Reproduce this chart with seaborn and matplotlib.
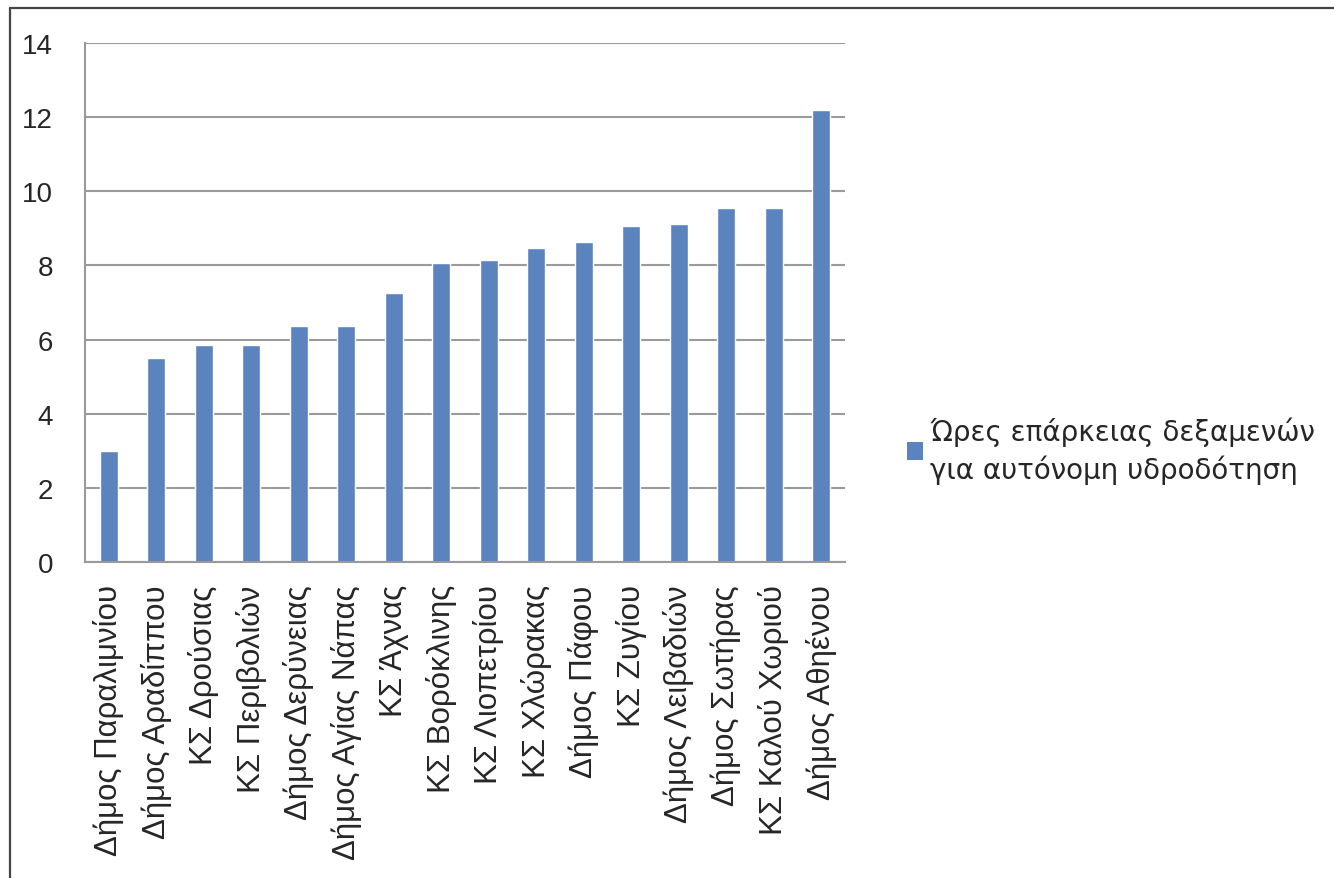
import numpy as np
import pandas as pd
import matplotlib
matplotlib.use("Agg")
import matplotlib.pyplot as plt
from matplotlib.patches import Patch
from matplotlib.lines import Line2D
import seaborn as sns

# ώρες επάρκειας δεξαμενών ανά περιοχή
places = [
    "Δήμος Παραλιμνίου", "Δήμος Αραδίππου", "ΚΣ Δρούσιας", "ΚΣ Περιβολιών",
    "Δήμος Δερύνειας", "Δήμος Αγίας Νάπας", "ΚΣ Άχνας", "ΚΣ Βορόκλινης",
    "ΚΣ Λιοπετρίου", "ΚΣ Χλώρακας", "Δήμος Πάφου", "ΚΣ Ζυγίου",
    "Δήμος Λειβαδιών", "Δήμος Σωτήρας", "ΚΣ Καλού Χωριού", "Δήμος Αθηένου",
]
hours = [3.0, 5.5, 5.86, 5.86, 6.37, 6.37, 7.26, 8.07,
         8.14, 8.46, 8.62, 9.05, 9.13, 9.54, 9.54, 12.19]
series_name = "Ώρες επάρκειας δεξαμενών\nγια αυτόνομη υδροδότηση"
yticks = [0, 2, 4, 6, 8, 10, 12, 14]

df = pd.DataFrame({"place": places, "hours": hours})

sns.set_style("white")
plt.rcParams["font.family"] = ["Liberation Sans", "DejaVu Sans"]

fig = plt.figure(figsize=(13.34, 8.79), dpi=100)
ax = fig.add_axes([0.0637, 0.3595, 0.5697, 0.5905])

bar_color = "#5b83be"
grid_color = "#9a9a9a"
text_color = "#262626"
sns.barplot(data=df, x="place", y="hours", color=bar_color, width=0.38,
            saturation=1, ax=ax)

ax.set_ylim(0, 14)
ax.set_xlim(-0.5, len(places) - 0.5)
ax.set_yticks(yticks)
ax.set_yticklabels([str(t) for t in yticks], fontsize=20, color=text_color)
ax.yaxis.grid(True, color=grid_color, linewidth=1.5)
ax.set_axisbelow(True)
ax.tick_params(axis="y", length=9, color=grid_color, width=1.5, pad=14)

# category labels, with tick marks between categories
ax.set_xticks(range(len(places)))
ax.set_xticklabels(places, rotation=90, fontsize=22.5, color=text_color)
ax.tick_params(axis="x", which="major", length=0, pad=16)
ax.set_xticks(np.arange(-0.5, len(places), 1), minor=True)
ax.tick_params(axis="x", which="minor", length=8, color=grid_color, width=1.5)
ax.set_xlabel("")
ax.set_ylabel("")

for side in ["top", "right"]:
    ax.spines[side].set_visible(False)
for side in ["left", "bottom"]:
    ax.spines[side].set_color(grid_color)
    ax.spines[side].set_linewidth(1.5)

handle = Patch(facecolor=bar_color, edgecolor="none")
leg = fig.legend([handle], [series_name], loc="center left",
                 bbox_to_anchor=(0.661, 0.487), frameon=False,
                 prop={"family": ["DejaVu Sans"], "size": 20},
                 handlelength=0.6, handleheight=0.6, handletextpad=0.25,
                 labelcolor=text_color)
for t in leg.get_texts():
    t.set_linespacing(1.35)

# frame lines on the left and top edge of the picture
fig.add_artist(Line2D([9.5 / 1334, 9.5 / 1334], [0, 1 - 8.5 / 879],
                      transform=fig.transFigure, color="#444444", linewidth=1.6))
fig.add_artist(Line2D([9.5 / 1334, 1], [1 - 8.5 / 879, 1 - 8.5 / 879],
                      transform=fig.transFigure, color="#444444", linewidth=1.6))

fig.savefig("out.png", dpi=100)
